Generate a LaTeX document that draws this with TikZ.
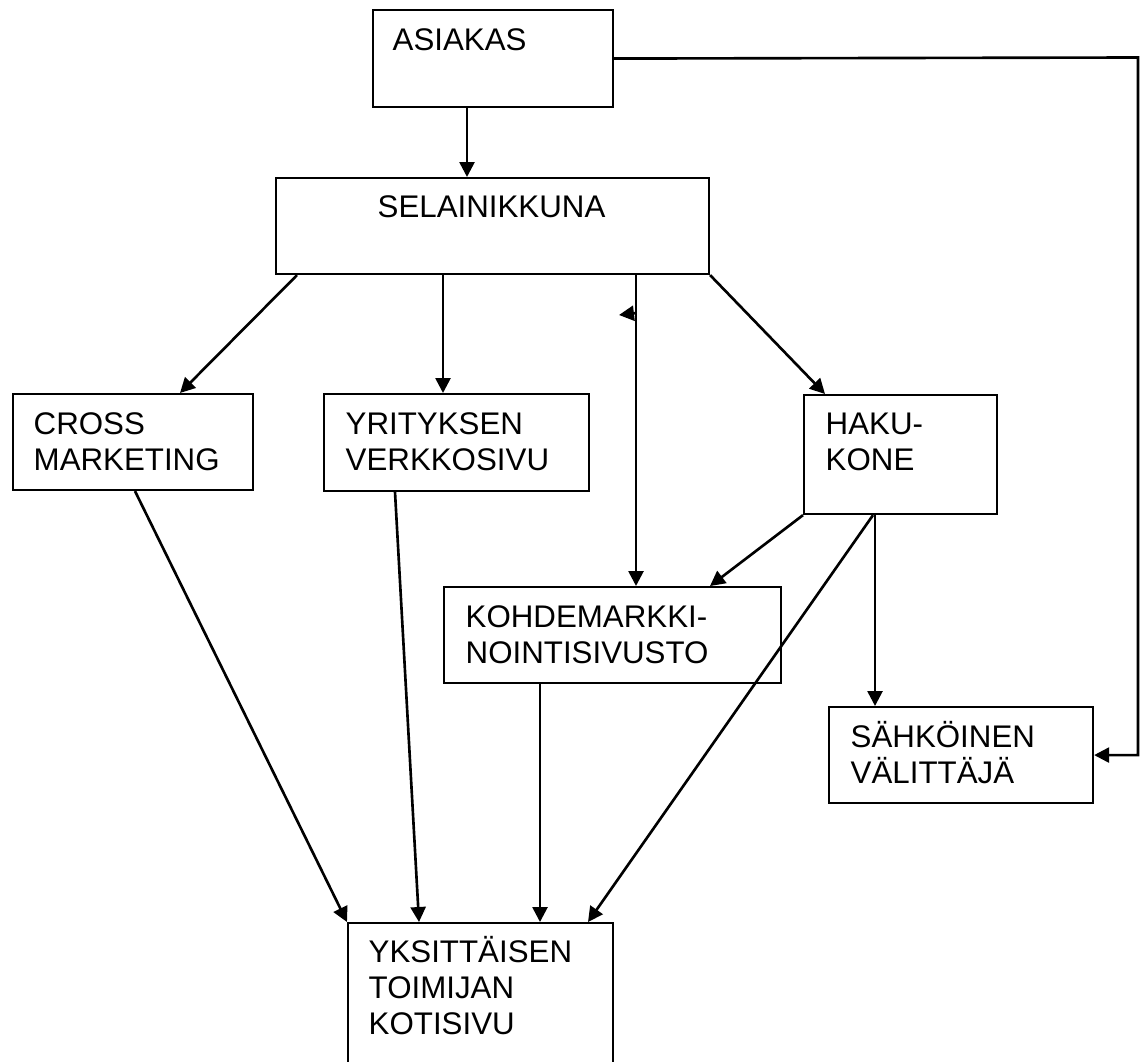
\documentclass[tikz,border=0pt]{standalone}
\usepackage{fontspec}
\setmainfont{Liberation Sans}
\usepackage{tikz}
\usetikzlibrary{arrows.meta,calc}

\begin{document}
\begin{tikzpicture}[x=0.1mm,y=-0.1mm,
  laatikko/.style={draw,line width=0.6pt,rectangle,anchor=north west,inner sep=0pt},
  teksti/.style={anchor=base west,inner sep=0pt,text width=32mm,align=left,
    font=\fontsize{8.9pt}{10.35pt}\selectfont},
  nuoli/.style={line width=0.75pt,-{Triangle[length=1.5mm,width=1.5mm]}}]
\clip (0,0) rectangle (1143,1061);

\node[laatikko,minimum width=24mm,minimum height=9.7mm] (asiakas) at (372,9) {};
\node[teksti] (asiakasT) at (392,50) {ASIAKAS};

\node[laatikko,minimum width=43.3mm,minimum height=9.6mm] (selain) at (275,177) {};
\node[teksti,anchor=base,text width=,align=center] (selainT) at (491.5,217) {SELAINIKKUNA};

\node[laatikko,minimum width=24mm,minimum height=9.6mm] (cross) at (12,393) {};
\node[teksti] (crossT) at (33,434) {CROSS\\MARKETING};

\node[laatikko,minimum width=26.5mm,minimum height=9.7mm] (yrit) at (323,393) {};
\node[teksti] (yritT) at (345,434) {YRITYKSEN\\VERKKOSIVU};

\node[laatikko,minimum width=19.3mm,minimum height=11.9mm] (haku) at (803,394) {};
\node[teksti] (hakuT) at (825,434) {HAKU-\\KONE};

\node[laatikko,minimum width=33.7mm,minimum height=9.6mm] (kohde) at (443,586) {};
\node[teksti] (kohdeT) at (465,627) {KOHDEMARKKI-\\NOINTISIVUSTO};

\node[laatikko,minimum width=26.4mm,minimum height=9.6mm] (sahko) at (828,706) {};
\node[teksti] (sahkoT) at (850,747) {SÄHKÖINEN\\VÄLITTÄJÄ};

\node[laatikko,minimum width=26.5mm,minimum height=20mm] (yksi) at (347,922) {};
\node[teksti] (yksiT) at (368,962) {YKSITTÄISEN\\TOIMIJAN\\KOTISIVU};

\coordinate (kulma) at (1138,57.5);
\coordinate (karki) at (619,315);

% asiakkaalta
\draw[nuoli] ($(asiakas.south west)+(95,0)$) coordinate (a1) -- (a1 |- selain.north);
\draw[nuoli] (asiakas.east) -- (kulma) |- (sahko.east);

% selainikkunasta
\draw[nuoli] ($(selain.south west)+(22,0)$) -- ($(cross.north west)+(168,0)$);
\draw[nuoli] ($(selain.south west)+(168,0)$) coordinate (s2) -- (s2 |- yrit.north);
\draw[nuoli] ($(selain.south west)+(361,0)$) coordinate (s3) -- (s3 |- kohde.north);
\draw[nuoli] (selain.south east) -- ($(haku.north west)+(22,0)$);
\draw[nuoli] (s3 |- karki) ++(0,-2) -- (karki);

% hakukoneesta
\draw[nuoli] (haku.south west) -- ($(kohde.north west)+(267,0)$);
\draw[nuoli] ($(haku.south west)+(72,0)$) coordinate (h2) -- (h2 |- sahko.north);
\draw[nuoli] ($(haku.south west)+(70,0)$) -- ($(yksi.north west)+(241,0)$);

% kotisivulle
\draw[nuoli] ($(cross.south west)+(123,0)$) -- (yksi.north west);
\draw[nuoli] ($(yrit.south west)+(72,0)$) -- ($(yksi.north west)+(72,0)$);
\draw[nuoli] ($(kohde.south west)+(97,0)$) coordinate (k1) -- (k1 |- yksi.north);

\end{tikzpicture}
\end{document}
